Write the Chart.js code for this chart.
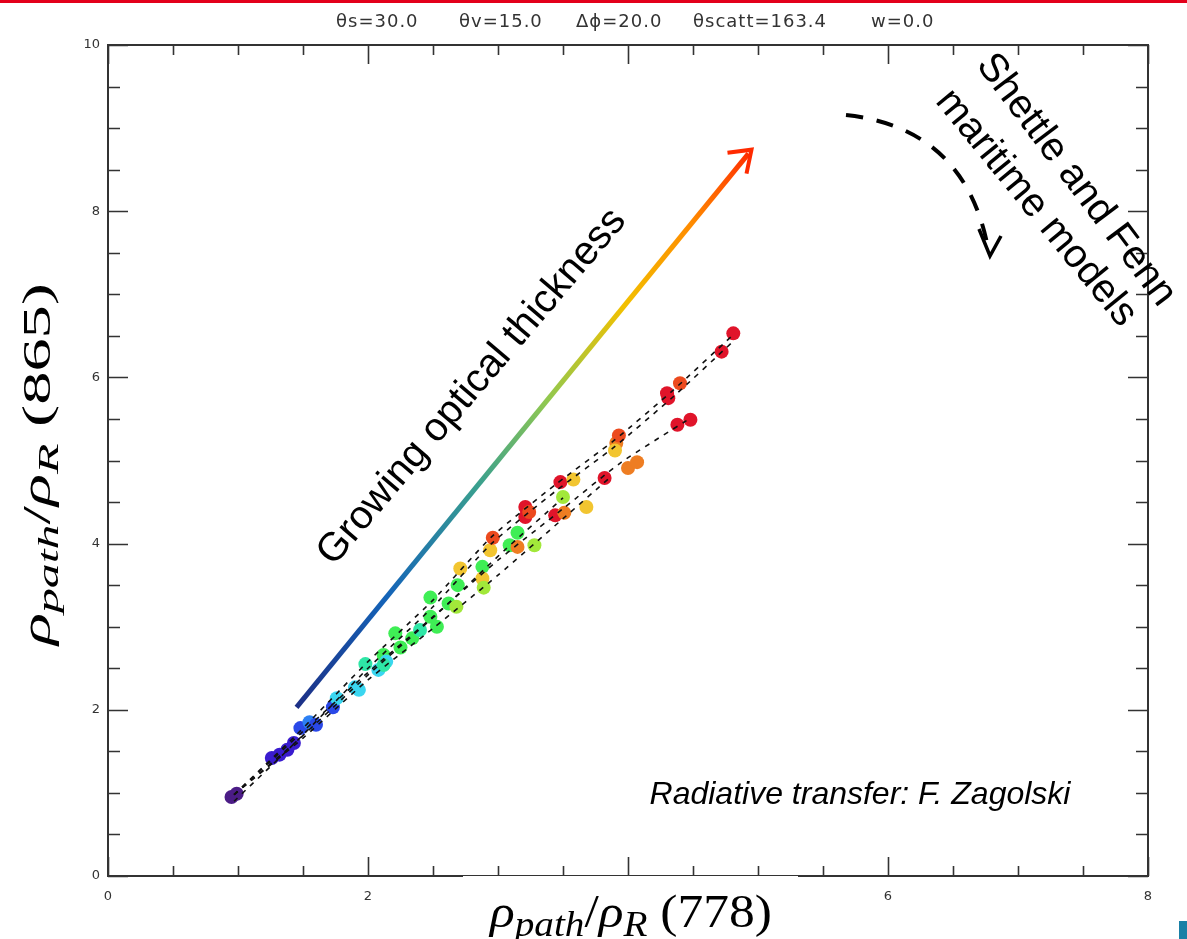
<!doctype html>
<html lang="en">
<head>
  <meta charset="utf-8">
  <script src="https://cdn.jsdelivr.net/npm/chart.js@4.4.1/dist/chart.umd.min.js"></script>
  <style>
    html, body { margin: 0; padding: 0; background: #fff; }
    #wrap { position: relative; width: 1187px; height: 939px; }
  </style>
</head>
<body>
<div id="wrap">
  <canvas id="chart" width="1187" height="939"></canvas>
</div>
<script>
  // axes
  const xMajor = [0, 2, 4, 6, 8];
  const yMajor = [0, 2, 4, 6, 8, 10];
  const minorStep = 0.5;
  const titleParts = ['θs=30.0', 'θv=15.0', 'Δϕ=20.0', 'θscatt=163.4', 'w=0.0'];

  // simulated reflectance ratios, colour = optical thickness class (0 thin .. 11 thick)
  const ptX = [0.95, 0.99, 1.26, 1.32, 1.38, 1.43, 1.48, 1.55, 1.60, 1.73, 1.76, 1.90, 1.93,
    1.98, 2.08, 2.12, 2.14, 2.12, 2.21, 2.25, 2.34, 2.40, 2.48, 2.48, 2.53, 2.62, 2.69, 2.68, 2.71,
    2.88, 2.88, 2.89, 2.94, 2.96, 3.09, 3.15, 3.28, 3.15, 3.21, 3.21, 3.24, 3.48, 3.58, 3.50,
    3.44, 3.51, 3.68, 3.82, 3.91, 3.90, 3.93, 4.00, 4.07, 4.30, 4.31, 4.40, 4.38, 4.48, 4.72, 4.81];
  const ptY = [0.95, 0.99, 1.42, 1.46, 1.52, 1.60, 1.78, 1.85, 1.82, 2.03, 2.14, 2.27, 2.24,
    2.55, 2.48, 2.66, 2.58, 2.54, 2.92, 2.75, 2.86, 2.96, 3.35, 3.12, 3.00, 3.28, 3.50, 3.24, 3.70,
    3.72, 3.58, 3.47, 3.92, 4.07, 3.98, 3.96, 3.98, 4.13, 4.44, 4.32, 4.38, 4.74, 4.77, 4.56,
    4.34, 4.37, 4.44, 4.79, 5.21, 5.12, 5.30, 4.91, 4.98, 5.81, 5.75, 5.93, 5.43, 5.49, 6.31, 6.53];
  const ptTau = [0, 0, 1, 1, 1, 1, 2, 3, 2, 2, 4, 4, 4,
    5, 4, 6, 4, 5, 6, 6, 6, 5, 6, 6, 6, 6, 6, 7, 8,
    6, 8, 7, 8, 10, 6, 9, 7, 6, 11, 11, 10, 11, 8, 7,
    11, 9, 8, 11, 9, 8, 10, 9, 9, 11, 11, 10, 11, 11, 11, 11];
  const tauColors = ['#4b1c86', '#3a1ccf', '#2a48e8', '#2c80f4', '#3ad6f0', '#2ee6a6',
    '#3fee55', '#a2e83a', '#f2c530', '#ee7d22', '#ec4a1e', '#e0142a'];

  // aerosol model curves (dashed)
  const modelAX = [0.97, 1.45, 2.00, 2.50, 2.95, 3.45, 3.90, 4.35, 4.80];
  const modelAY = [0.98, 1.70, 2.58, 3.32, 4.08, 4.72, 5.25, 5.85, 6.50];
  const modelBX = [0.97, 1.50, 2.00, 2.50, 3.00, 3.50, 3.95, 4.45];
  const modelBY = [0.98, 1.74, 2.45, 3.12, 3.80, 4.42, 4.98, 5.48];
  const modelCX = [0.97, 1.50, 2.00, 2.50, 3.00, 3.50, 3.85];
  const modelCY = [0.98, 1.66, 2.36, 2.98, 3.62, 4.30, 4.78];
  const modelDX = [0.97, 1.45, 2.00, 2.55, 3.05, 3.50];
  const modelDY = [0.98, 1.62, 2.42, 3.18, 3.92, 4.55];

  const pts = ptX.map((x, i) => ({x: x, y: ptY[i]}));
  const ptCols = ptTau.map(t => tauColors[t]);
  const toXY = (xs, ys) => xs.map((x, i) => ({x: x, y: ys[i]}));

  function modelLine(xs, ys, dx) {
    return {
      type: 'line',
      data: toXY(xs, ys.map(v => v + dx)),
      borderColor: '#111',
      borderWidth: 1.6,
      borderDash: [5, 6],
      pointRadius: 0,
      fill: false,
      tension: 0.2,
      order: 0
    };
  }

  // frame, IDL style inward ticks, tick labels
  const framePlugin = {
    id: 'frame',
    beforeDatasetsDraw(chart) {
      const {ctx, chartArea: a, scales: {x, y}} = chart;
      ctx.save();
      ctx.strokeStyle = '#333';
      ctx.lineWidth = 1.6;
      for (let v = 0; v <= 8 + 1e-9; v += minorStep) {
        const px = Math.round(x.getPixelForValue(v)) + 0.5;
        const len = xMajor.includes(v) ? 19 : 10;
        ctx.beginPath();
        ctx.moveTo(px, a.bottom); ctx.lineTo(px, a.bottom - len);
        ctx.moveTo(px, a.top); ctx.lineTo(px, a.top + len);
        ctx.stroke();
      }
      for (let v = 0; v <= 10 + 1e-9; v += minorStep) {
        const py = Math.round(y.getPixelForValue(v)) + 0.5;
        const len = yMajor.includes(v) ? 20 : 12;
        ctx.beginPath();
        ctx.moveTo(a.left, py); ctx.lineTo(a.left + len, py);
        ctx.moveTo(a.right, py); ctx.lineTo(a.right - len, py);
        ctx.stroke();
      }
      ctx.lineWidth = 2;
      ctx.strokeRect(a.left, a.top, a.right - a.left, a.bottom - a.top);

      ctx.fillStyle = '#333';
      ctx.font = '13px "DejaVu Sans"';
      ctx.textAlign = 'center';
      ctx.textBaseline = 'top';
      xMajor.forEach(v => ctx.fillText(String(v), x.getPixelForValue(v), a.bottom + 14));
      ctx.textAlign = 'right';
      ctx.textBaseline = 'middle';
      yMajor.forEach(v => ctx.fillText(String(v), a.left - 8, y.getPixelForValue(v)));

      ctx.font = '18px "DejaVu Sans"';
      ctx.letterSpacing = '1px';
      ctx.textAlign = 'left';
      ctx.textBaseline = 'alphabetic';
      const starts = [336, 459, 576, 693, 871];
      titleParts.forEach((t, i) => ctx.fillText(t, starts[i], 27));
      ctx.restore();
    }
  };

  // rho_path / rho_R (nnn), stretched to a given length
  function mathLabel(ctx, cx, base, size, sub, tail, len) {
    const parts = [
      {t: 'ρ', f: 'italic ' + size + 'px "Liberation Serif"', dy: 0},
      {t: 'path', f: 'italic ' + sub + 'px "Liberation Serif"', dy: size * 0.2},
      {t: '/', f: size + 'px "Liberation Serif"', dy: 0},
      {t: 'ρ', f: 'italic ' + size + 'px "Liberation Serif"', dy: 0},
      {t: 'R', f: 'italic ' + sub + 'px "Liberation Serif"', dy: size * 0.2},
      {t: ' (' + tail + ')', f: size + 'px "Liberation Serif"', dy: 0}
    ];
    let w = 0;
    parts.forEach(p => { ctx.font = p.f; p.w = ctx.measureText(p.t).width; w += p.w; });
    ctx.save();
    ctx.translate(cx, base);
    ctx.scale(len / w, 1);
    let x0 = -w / 2;
    ctx.textAlign = 'left';
    ctx.textBaseline = 'alphabetic';
    parts.forEach(p => { ctx.font = p.f; ctx.fillText(p.t, x0, p.dy); x0 += p.w; });
    ctx.restore();
  }

  // annotations drawn over the plot
  const notesPlugin = {
    id: 'notes',
    afterDraw(chart) {
      const {ctx, scales: {x, y}} = chart;
      ctx.save();
      // red band at top of slide
      ctx.fillStyle = '#e3001b';
      ctx.fillRect(0, 0, 1187, 3);
      // white label box over part of the x axis
      ctx.fillStyle = '#fff';
      ctx.fillRect(463, 876, 335, 63);
      ctx.fillStyle = '#1a80a6';
      ctx.fillRect(1179, 921, 8, 18);

      ctx.fillStyle = '#000';
      mathLabel(ctx, 631, 927, 46, 35, '778', 282);
      ctx.save();
      ctx.translate(50, 464);
      ctx.rotate(-Math.PI / 2);
      mathLabel(ctx, 0, 0, 40, 30, '865', 362);
      ctx.restore();

      // gradient arrow
      const x0 = x.getPixelForValue(1.45), y0 = y.getPixelForValue(2.03);
      const x1 = x.getPixelForValue(4.95), y1 = y.getPixelForValue(8.74);
      const g = ctx.createLinearGradient(x0, y0, x1, y1);
      g.addColorStop(0, '#1c2f86');
      g.addColorStop(0.2, '#1464b8');
      g.addColorStop(0.4, '#3aa08e');
      g.addColorStop(0.55, '#90c850');
      g.addColorStop(0.72, '#f2c000');
      g.addColorStop(0.87, '#ff8a00');
      g.addColorStop(1, '#ff2a00');
      ctx.strokeStyle = g;
      ctx.lineWidth = 5;
      ctx.lineCap = 'butt';
      ctx.beginPath();
      ctx.moveTo(x0, y0); ctx.lineTo(x1 - 3, y1 + 4);
      ctx.stroke();
      ctx.strokeStyle = '#ff2a00';
      ctx.lineWidth = 4;
      ctx.lineJoin = 'miter';
      ctx.beginPath();
      ctx.moveTo(x1 - 24, y1 + 3); ctx.lineTo(x1, y1); ctx.lineTo(x1 - 5, y1 + 24);
      ctx.stroke();

      ctx.fillStyle = '#000';
      ctx.font = '40px "Liberation Sans"';
      ctx.textAlign = 'center';
      ctx.textBaseline = 'middle';
      ctx.save();
      ctx.translate(472, 387);
      ctx.rotate(-Math.atan2(y0 - y1, x1 - x0) + 0.02);
      ctx.fillText('Growing optical thickness', 0, 0);
      ctx.restore();

      // dashed curved arrow
      ctx.strokeStyle = '#000';
      ctx.lineWidth = 4;
      ctx.setLineDash([17, 14]);
      ctx.beginPath();
      ctx.moveTo(846, 115);
      ctx.quadraticCurveTo(965, 128, 988, 248);
      ctx.stroke();
      ctx.setLineDash([]);
      ctx.lineWidth = 3.5;
      ctx.beginPath();
      ctx.moveTo(979, 229); ctx.lineTo(990, 256); ctx.lineTo(1001, 236);
      ctx.stroke();

      ctx.save();
      ctx.translate(1076, 180);
      ctx.rotate(0.925);
      ctx.fillText('Shettle and Fenn', 0, 0);
      ctx.restore();
      ctx.save();
      ctx.translate(1036, 208);
      ctx.rotate(0.885);
      ctx.fillText('maritime models', 0, 0);
      ctx.restore();

      ctx.font = 'italic 32px "Liberation Sans"';
      ctx.fillText('Radiative transfer: F. Zagolski', 860, 795);
      ctx.restore();
    }
  };

  new Chart(document.getElementById('chart').getContext('2d'), {
    type: 'scatter',
    data: {
      datasets: [
        modelLine(modelAX, modelAY, 0),
        modelLine(modelAX, modelAY, -0.08),
        modelLine(modelBX, modelBY, 0),
        modelLine(modelCX, modelCY, 0),
        modelLine(modelDX, modelDY, 0),
        {
          type: 'scatter',
          data: pts,
          backgroundColor: ptCols,
          borderWidth: 0,
          pointRadius: 7,
          pointStyle: 'circle',
          order: 1
        }
      ]
    },
    options: {
      responsive: false,
      animation: false,
      layout: {padding: {left: 108, right: 39, top: 45, bottom: 63}},
      plugins: {legend: {display: false}, tooltip: {enabled: false}},
      scales: {
        x: {type: 'linear', min: 0, max: 8, display: false},
        y: {type: 'linear', min: 0, max: 10, display: false}
      }
    },
    plugins: [framePlugin, notesPlugin]
  });
</script>
</body>
</html>
